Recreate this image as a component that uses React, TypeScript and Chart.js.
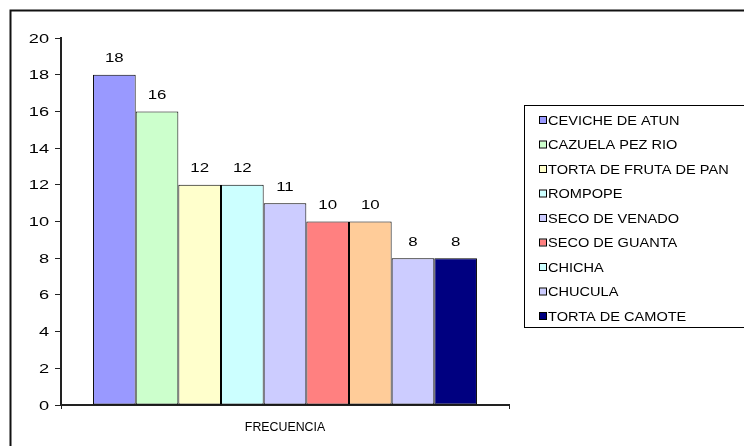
import React, { useEffect, useRef } from "react";
import { Chart, registerables } from "chart.js";

Chart.register(...registerables);

// Dishes and how often each was chosen
const categories = ["FRECUENCIA"];
const dishes = [
  "CEVICHE DE ATUN",
  "CAZUELA PEZ RIO",
  "TORTA DE FRUTA DE PAN",
  "ROMPOPE",
  "SECO DE VENADO",
  "SECO DE GUANTA",
  "CHICHA",
  "CHUCULA",
  "TORTA DE CAMOTE",
];
const frequencies = [18, 16, 12, 12, 11, 10, 10, 8, 8];
const barColors = [
  "#9999FF",
  "#CCFFCC",
  "#FFFFCC",
  "#CCFFFF",
  "#CCCCFF",
  "#FF8080",
  "#FFCC99",
  "#CCCCFF",
  "#000080",
];
const legendColors = [
  "#9999FF",
  "#CCFFCC",
  "#FFFFCC",
  "#CCFFFF",
  "#CCCCFF",
  "#FF8080",
  "#CCFFFF",
  "#CCCCFF",
  "#000080",
];
const yTicks = [0, 2, 4, 6, 8, 10, 12, 14, 16, 18, 20];

const FONT = "Arial, 'Liberation Sans', sans-serif";

function drawText(
  ctx: CanvasRenderingContext2D,
  text: string,
  x: number,
  y: number,
  align: CanvasTextAlign,
  size: number,
  sx: number
) {
  ctx.save();
  ctx.translate(x, y);
  ctx.scale(sx, 1);
  ctx.font = `${size}px ${FONT}`;
  ctx.fillStyle = "#000";
  ctx.textAlign = align;
  ctx.textBaseline = "alphabetic";
  ctx.fillText(text, 0, 0);
  ctx.restore();
}

// Frame, axis labels, value labels and legend box
const decorations = {
  id: "decorations",
  afterDraw(chart: any) {
    const ctx: CanvasRenderingContext2D = chart.ctx;
    const y = chart.scales.y;
    const x = chart.scales.x;

    // outer frame
    ctx.save();
    ctx.strokeStyle = "#111";
    ctx.lineWidth = 2;
    ctx.strokeRect(10.5, 10.5, 900, 600);
    ctx.restore();

    // y tick labels
    yTicks.forEach((v) => {
      const py = y.getPixelForValue(v);
      drawText(ctx, String(v), 49, py + 4.5, "right", 13, 1.4);
    });

    // category label
    categories.forEach((c, i) => {
      drawText(ctx, c, x.getPixelForValue(i), 431, "center", 13, 0.95);
    });

    // value labels above bars
    chart.data.datasets.forEach((ds: any, i: number) => {
      const meta = chart.getDatasetMeta(i);
      meta.data.forEach((bar: any, j: number) => {
        drawText(ctx, String(ds.data[j]), bar.x, bar.y - 12.5, "center", 13.5, 1.25);
      });
    });

    // legend
    const lx = 524.5;
    const ly = 105.5;
    ctx.save();
    ctx.strokeStyle = "#000";
    ctx.lineWidth = 1;
    ctx.strokeRect(lx, ly, 400, 222);
    ctx.restore();
    dishes.forEach((name, i) => {
      const cy = 120 + i * 24.5;
      ctx.save();
      ctx.fillStyle = legendColors[i];
      ctx.fillRect(540, cy - 3, 6, 6);
      ctx.strokeStyle = "#000";
      ctx.lineWidth = 1;
      ctx.strokeRect(539.5, cy - 3.5, 7, 7);
      ctx.restore();
      drawText(ctx, name, 548, cy + 4.5, "left", 13, 1.12);
    });
  },
};

export default function App() {
  const ref = useRef<HTMLCanvasElement | null>(null);

  useEffect(() => {
    if (!ref.current) return;
    const chart = new Chart(ref.current, {
      type: "bar",
      data: {
        labels: categories,
        datasets: dishes.map((name, i) => ({
          label: name,
          data: [frequencies[i]],
          backgroundColor: barColors[i],
          borderColor: "#000",
          borderWidth: 1,
          borderSkipped: false,
          categoryPercentage: 0.857,
          barPercentage: 1,
        })),
      },
      options: {
        animation: false,
        responsive: false,
        devicePixelRatio: 1,
        layout: { padding: { left: 0, right: 235, top: 38, bottom: 0 } },
        plugins: {
          legend: { display: false },
          tooltip: { enabled: false },
        },
        scales: {
          x: {
            offset: true,
            grid: {
              offset: true,
              drawOnChartArea: false,
              drawTicks: true,
              tickLength: 4,
              color: "#222",
              lineWidth: 1,
            },
            border: { display: true, color: "#222", width: 2 },
            ticks: { display: false },
            afterFit(scale: any) {
              scale.height = 41;
            },
          },
          y: {
            min: 0,
            max: 20,
            ticks: { stepSize: 2, display: false },
            grid: {
              drawOnChartArea: false,
              drawTicks: true,
              tickLength: 6,
              color: "#222",
              lineWidth: 1,
            },
            border: { display: true, color: "#222", width: 2 },
            afterFit(scale: any) {
              scale.width = 61;
            },
          },
        },
      },
      plugins: [decorations],
    });
    return () => chart.destroy();
  }, []);

  return (
    <div style={{ position: "absolute", left: 0, top: 0, width: 744, height: 446, background: "#fff" }}>
      <canvas ref={ref} width={744} height={446} style={{ width: 744, height: 446 }} />
    </div>
  );
}
